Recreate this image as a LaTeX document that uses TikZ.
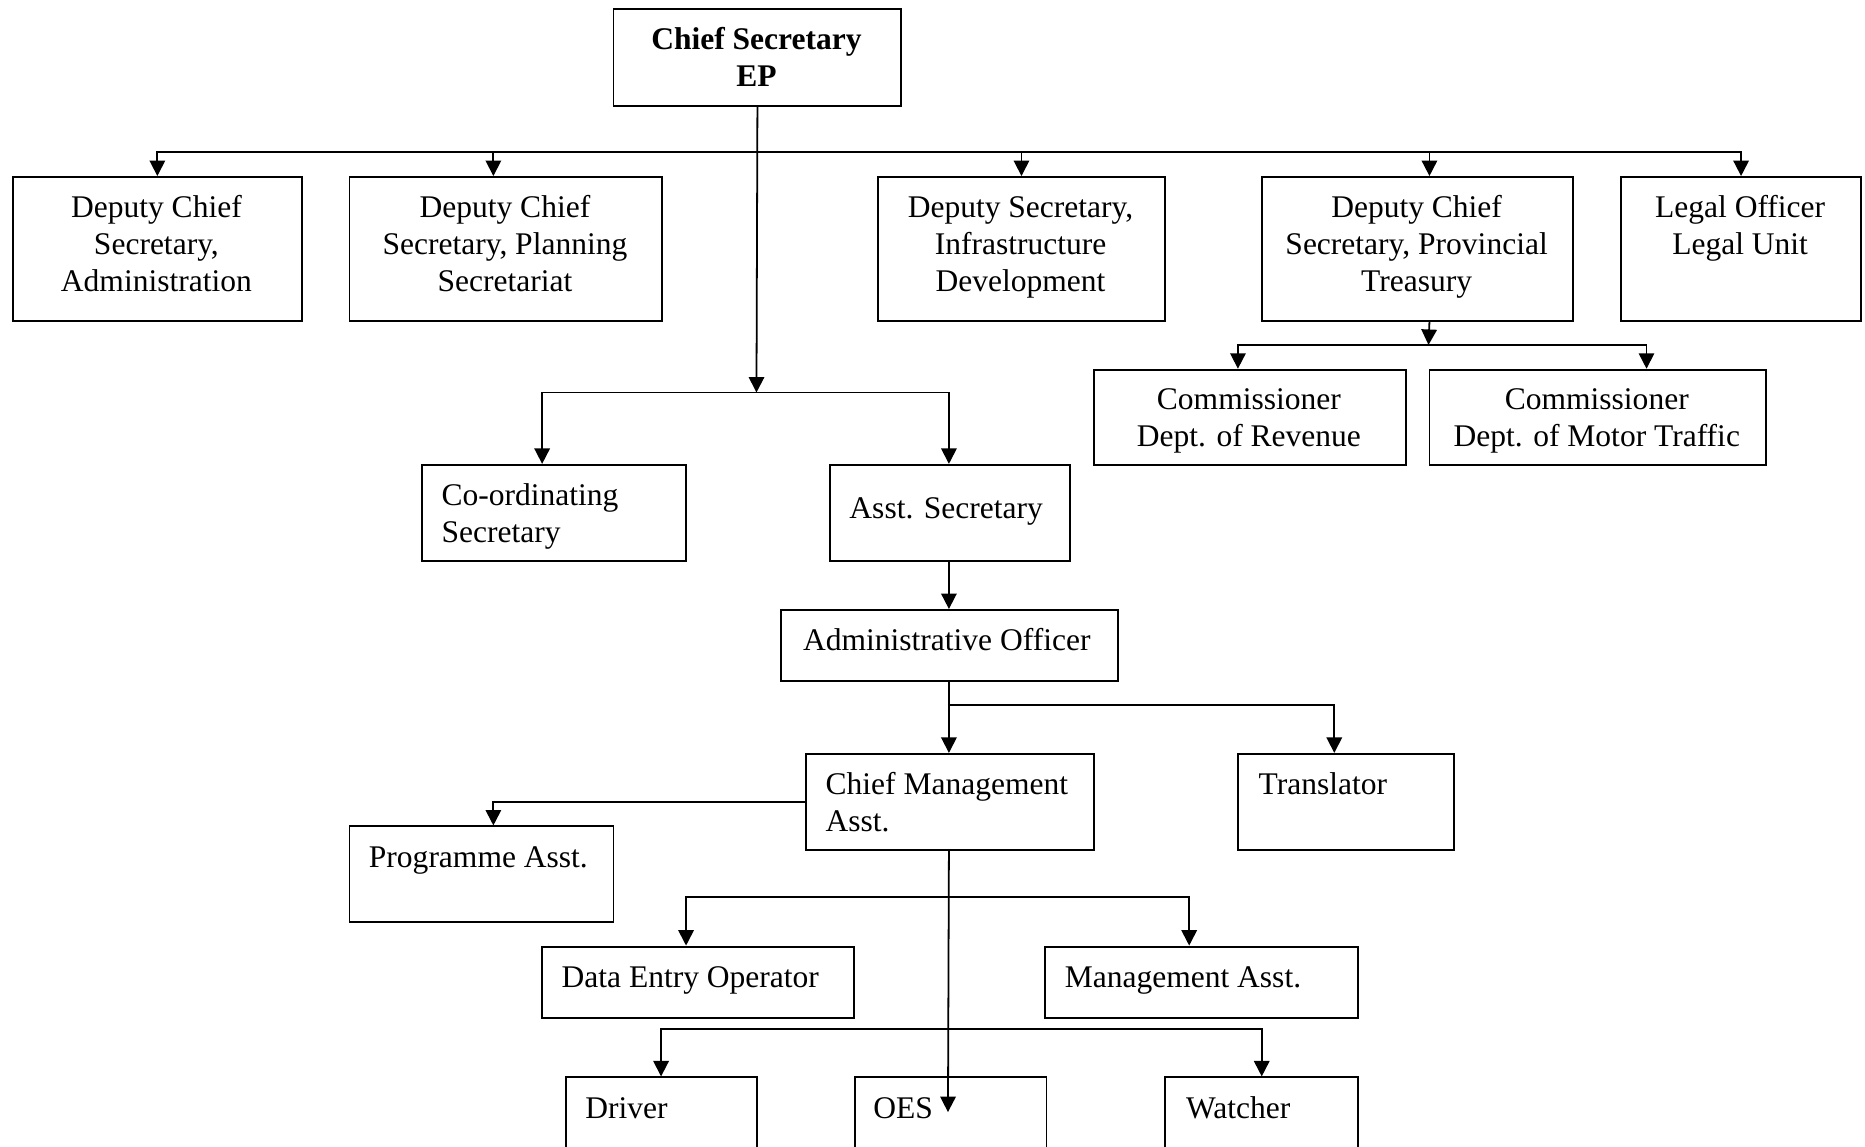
\documentclass[tikz,border=0pt]{standalone}
\usepackage{fontspec}
\setmainfont{Liberation Serif}
\usetikzlibrary{arrows.meta}
\tikzset{
  box/.style={draw, line width=1.6pt, rectangle, inner sep=0pt, anchor=north west},
  txt/.style={inner sep=0pt, font=\fontsize{26.5}{31}\selectfont},
  ctxt/.style={txt, anchor=base},
  ltxt/.style={txt, anchor=base west},
  conn/.style={line width=1.5pt},
  arr/.style={conn, -{Triangle[length=13pt,width=13pt]}}
}
\begin{document}
\begin{tikzpicture}[x=1pt,y=-1pt]
\clip (0,0) rectangle (1568,964);
\fill[white] (0,0) rectangle (1568,964);
% boxes
\node[box, minimum width=242pt, minimum height=81pt] (cs) at (515,7) {};
\node[box, minimum width=243pt, minimum height=121pt] (dcsA) at (10,148) {};
\node[box, minimum width=263pt, minimum height=121pt] (dcsP) at (293,148) {};
\node[box, minimum width=242pt, minimum height=121pt] (dsI) at (737,148) {};
\node[box, minimum width=262pt, minimum height=121pt] (dcsT) at (1060,148) {};
\node[box, minimum width=202pt, minimum height=121pt] (legal) at (1362,148) {};
\node[box, minimum width=262pt, minimum height=80pt] (comR) at (919,310) {};
\node[box, minimum width=283pt, minimum height=80pt] (comM) at (1201,310) {};
\node[box, minimum width=222pt, minimum height=81pt] (cos) at (354,390) {};
\node[box, minimum width=202pt, minimum height=81pt] (asst) at (697,390) {};
\node[box, minimum width=283pt, minimum height=60pt] (ao) at (656,512) {};
\node[box, minimum width=242pt, minimum height=81pt] (cma) at (677,633) {};
\node[box, minimum width=182pt, minimum height=81pt] (tr) at (1040,633) {};
\node[box, minimum width=222pt, minimum height=80pt] (pa) at (293,694) {};
\node[box, minimum width=262pt, minimum height=60pt] (deo) at (455,795) {};
\node[box, minimum width=263pt, minimum height=60pt] (ma) at (878,795) {};
\node[box, minimum width=161pt, minimum height=90pt] (drv) at (475,905) {};
\node[box, minimum width=161pt, minimum height=90pt] (oes) at (718,905) {};
\node[box, minimum width=162pt, minimum height=90pt] (wat) at (979,905) {};
% texts
\node[ctxt, font=\fontsize{26.5}{31}\selectfont\bfseries] (cs1) at (636,42) {Chief Secretary};
\node[ctxt, font=\fontsize{26.5}{31}\selectfont\bfseries] (cs2) at (636,73) {EP};
\node[ctxt] (a1) at (131.5,183) {Deputy Chief};
\node[ctxt] (a2) at (131.5,214) {Secretary,};
\node[ctxt] (a3) at (131.5,245) {Administration};
\node[ctxt] (p1) at (424.5,183) {Deputy Chief};
\node[ctxt] (p2) at (424.5,214) {Secretary, Planning};
\node[ctxt] (p3) at (424.5,245) {Secretariat};
\node[ctxt] (i1) at (858,183) {Deputy Secretary,};
\node[ctxt] (i2) at (858,214) {Infrastructure};
\node[ctxt] (i3) at (858,245) {Development};
\node[ctxt] (t1) at (1191,183) {Deputy Chief};
\node[ctxt] (t2) at (1191,214) {Secretary, Provincial};
\node[ctxt] (t3) at (1191,245) {Treasury};
\node[ctxt] (l1) at (1463,183) {Legal Officer};
\node[ctxt] (l2) at (1463,214) {Legal Unit};
\node[ctxt] (r1) at (1050,344) {Commissioner};
\node[ctxt] (r2) at (1050,375) {Dept. of Revenue};
\node[ctxt] (m1) at (1342.5,344) {Commissioner};
\node[ctxt] (m2) at (1342.5,375) {Dept. of Motor Traffic};
\node[ltxt] (c1) at (371,425) {Co-ordinating};
\node[ltxt] (c2) at (371,456) {Secretary};
\node[ltxt] (s1) at (714,436) {Asst. Secretary};
\node[ltxt] (o1) at (675,547) {Administrative Officer};
\node[ltxt] (cm1) at (694,668) {Chief Management};
\node[ltxt] (cm2) at (694,699) {Asst.};
\node[ltxt] (tr1) at (1058,668) {Translator};
\node[ltxt] (pa1) at (310,729) {Programme Asst.};
\node[ltxt] (de1) at (472,830) {Data Entry Operator};
\node[ltxt] (ma1) at (895,830) {Management Asst.};
\node[ltxt] (dr1) at (492,940) {Driver};
\node[ltxt] (oe1) at (734,940) {OES};
\node[ltxt] (wa1) at (997,940) {Watcher};
% junctions
\coordinate (b1) at (636,128);
\coordinate (j1) at (636,330);
\coordinate (j2) at (1201,290);
\coordinate (j3) at (797,593);
\coordinate (j4) at (797,754);
\coordinate (j5) at (797,865);
\coordinate (oesTip) at (797,935);
% connectors
\draw[arr] (cs.south) -- (j1);
\draw[arr] (b1) -| (dcsA.north);
\draw[arr] (b1) -| ([xshift=-10.5pt]dcsP.north);
\draw[arr] (b1) -| (dsI.north);
\draw[arr] (b1) -| ([xshift=10pt]dcsT.north);
\draw[arr] (b1) -| (legal.north);
\draw[arr] ([xshift=10pt]dcsT.south) -- (j2);
\draw[arr] (j2) -| ([xshift=-10pt]comR.north);
\draw[arr] (j2) -| ([xshift=41pt]comM.north);
\draw[arr] (j1) -| ([xshift=-10pt]cos.north);
\draw[arr] (j1) -| ([xshift=-1pt]asst.north);
\draw[arr] ([xshift=-1pt]asst.south) -- ([xshift=-0.5pt]ao.north);
\draw[arr] ([xshift=-0.5pt]ao.south) -- ([xshift=-1pt]cma.north);
\draw[arr] (j3) -| ([xshift=-10pt]tr.north);
\draw[arr] (cma.west) -| ([xshift=10pt]pa.north);
\draw[arr] ([xshift=-1pt]cma.south) -- (oesTip);
\draw[arr] (j4) -| ([xshift=-10pt]deo.north);
\draw[arr] (j4) -| ([xshift=-10.5pt]ma.north);
\draw[arr] (j5) -| ([xshift=-0.5pt]drv.north);
\draw[arr] (j5) -| (wat.north);
\end{tikzpicture}
\end{document}
